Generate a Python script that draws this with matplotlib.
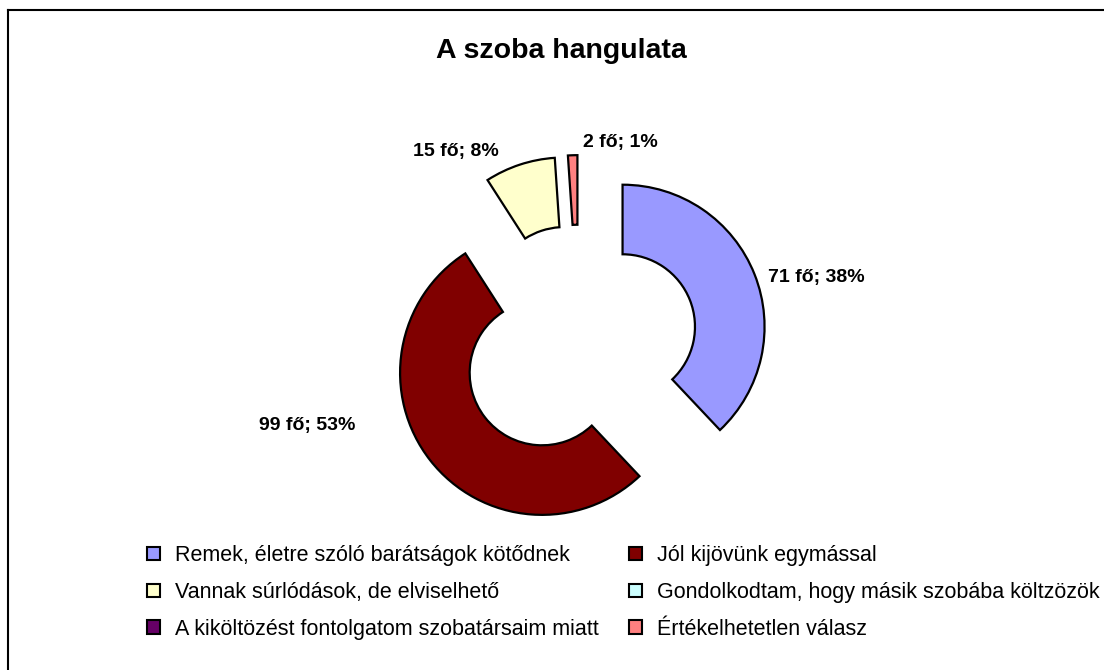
import numpy as np
import matplotlib
matplotlib.use("Agg")
import matplotlib.pyplot as plt
from matplotlib.patches import Patch
from matplotlib.lines import Line2D

plt.rcParams['font.family'] = ['Liberation Sans', 'DejaVu Sans']

# data
categories = [
    'Remek, életre szóló barátságok kötődnek',
    'Jól kijövünk egymással',
    'Vannak súrlódások, de elviselhető',
    'Gondolkodtam, hogy másik szobába költzözök',
    'A kiköltözést fontolgatom szobatársaim miatt',
    'Értékelhetetlen válasz',
]
counts = [71, 99, 15, 0, 0, 2]
colors = ['#9999FF', '#800000', '#FFFFCC', '#CCFFFF', '#660066', '#FF8080']

W, H = 1104, 670
R_PX = 142.0            # outer radius in pixels
CX, CY = 579.0, 344.0   # pie centre in pixels (from top-left)
EXPLODE = 0.33

fig = plt.figure(figsize=(W / 100, H / 100), dpi=100)
ax = fig.add_axes([0, 0, 1, 1])
ax.axis('off')

# only non-zero slices get drawn, the zero ones still go into the legend
idx = [i for i, c in enumerate(counts) if c > 0]
vals = [counts[i] for i in idx]
wedges, _ = ax.pie(vals,
                   colors=[colors[i] for i in idx],
                   startangle=90,
                   counterclock=False,
                   explode=[EXPLODE] * len(vals),
                   radius=1.0,
                   wedgeprops=dict(width=0.49, edgecolor='black', linewidth=1.6),
                   frame=False)
ax.set_xlim(-CX / R_PX, (W - CX) / R_PX)
ax.set_ylim(-(H - CY) / R_PX, CY / R_PX)
ax.set_aspect('auto')

# data labels, "N fő; P%"
total = sum(counts)
nudge_px = {0: (3, -7), 1: (-66, 42), 2: (-17, 2), 5: (11, 1)}
for w, i in zip(wedges, idx):
    mid = np.deg2rad((w.theta1 + w.theta2) / 2)
    d = np.array([np.cos(mid), np.sin(mid)])
    p = EXPLODE * d + 1.08 * d
    nx, ny = nudge_px.get(i, (0, 0))
    p = p + np.array([nx, ny]) / R_PX
    ha = 'left' if d[0] > -0.1 else 'right'
    pct = round(100 * counts[i] / total)
    ax.text(p[0], p[1], f'{counts[i]} fő; {pct}%', ha=ha, va='center',
            fontsize=14, fontweight='bold')

fig.text(561 / W, 1 - 51 / H, 'A szoba hangulata', ha='center', va='center',
         fontsize=20.5, fontweight='bold')

# legend, row-wise order like the original
handles = [Patch(facecolor=c, edgecolor='black', linewidth=1.5) for c in colors]
order = [0, 2, 4, 1, 3, 5]
fig.legend([handles[i] for i in order], [categories[i] for i in order],
           ncol=2, loc='upper left', bbox_to_anchor=(147 / W, 1 - 545 / H),
           frameon=False, fontsize=15.5, handlelength=0.6, handleheight=0.6,
           handletextpad=0.7, columnspacing=1.4, labelspacing=0.74, borderpad=0,
           borderaxespad=0)

# chart area border (left and top edges visible)
fig.add_artist(Line2D([8 / W, 8 / W], [0, 1 - 10 / H], color='black', lw=1.5))
fig.add_artist(Line2D([8 / W, 1], [1 - 10 / H, 1 - 10 / H], color='black', lw=1.5))

fig.savefig('out.png', dpi=100)
